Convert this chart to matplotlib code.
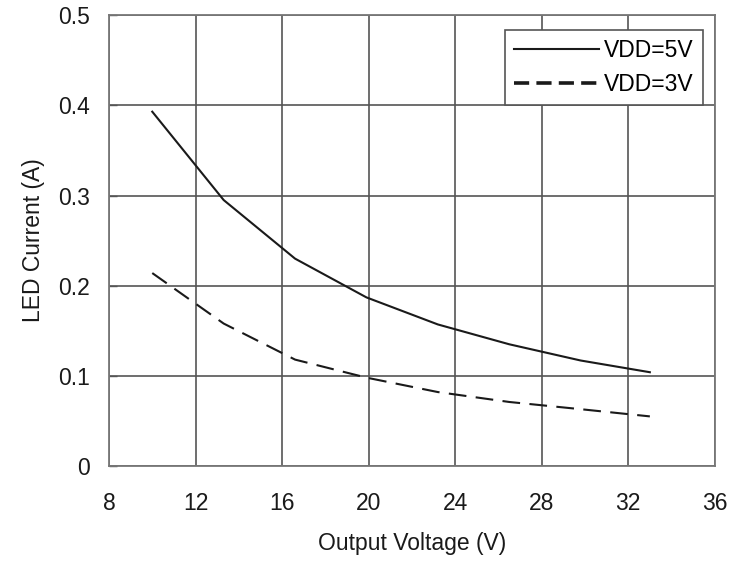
import matplotlib
matplotlib.use("Agg")
import matplotlib.pyplot as plt

plt.rcParams['font.family'] = ['Liberation Sans', 'DejaVu Sans']

voltage = [10.0, 13.3, 16.6, 19.9, 23.2, 26.5, 29.8, 33.0]
current_5v = [0.393, 0.295, 0.230, 0.187, 0.157, 0.135, 0.117, 0.104]
current_3v = [0.214, 0.158, 0.118, 0.098, 0.082, 0.071, 0.063, 0.055]
labels = ["VDD=5V", "VDD=3V"]
xticks = [8, 12, 16, 20, 24, 28, 32, 36]
yticks = [0, 0.1, 0.2, 0.3, 0.4, 0.5]
yticklabels = ["0", "0.1", "0.2", "0.3", "0.4", "0.5"]

FS = 16.5

fig = plt.figure(figsize=(7.43, 5.64), dpi=100)
ax = fig.add_axes([0.1467, 0.1738, 0.8153, 0.7992])

ax.plot(voltage, current_5v, color='#1a1a1a', lw=1.5, label=labels[0])
ax.plot(voltage, current_3v, color='#1a1a1a', lw=1.5, dashes=(8.5, 4.5), label=labels[1])

ax.set_xlim(8, 36)
ax.set_ylim(0, 0.5)
ax.set_xticks(xticks)
ax.set_yticks(yticks)
ax.set_yticklabels(yticklabels)
ax.grid(True, color='#555555', lw=1.2)
ax.set_axisbelow(True)
for s in ax.spines.values():
    s.set_color('#777777')
    s.set_linewidth(1.3)
ax.tick_params(axis='y', direction='in', length=6, width=1, colors='#555555',
               labelcolor='#1a1a1a', labelsize=FS, pad=14)
ax.tick_params(axis='x', length=0, labelsize=FS, labelcolor='#1a1a1a', pad=19)

ax.set_xlabel("Output Voltage (V)", fontsize=FS, color='#1a1a1a', labelpad=12)
ax.set_ylabel("LED Current (A)", fontsize=FS, color='#1a1a1a', labelpad=9)

leg = ax.legend(loc='upper right', fontsize=FS, frameon=True, fancybox=False,
                edgecolor='#555555', framealpha=1, handlelength=3.7, handletextpad=0.25,
                borderpad=0.38, labelspacing=0.5, borderaxespad=0,
                bbox_to_anchor=(0.980, 0.967))
leg.get_frame().set_linewidth(1.2)
leg.get_lines()[1].set_linewidth(2.6)
leg.get_lines()[1].set_dashes((4.2, 2.0))

fig.savefig("out.png", dpi=100)
